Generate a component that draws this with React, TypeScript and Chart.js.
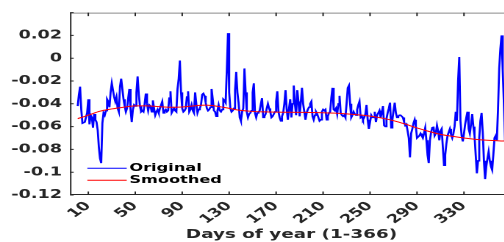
import React, { useEffect, useRef } from "react";
import { Chart, registerables } from "chart.js";

Chart.register(...registerables);

// ---- data ----
const originalValues: number[] = [
  -0.042, -0.032, -0.025, -0.045, -0.057, -0.057, -0.056, -0.052, -0.048, -0.036,
  -0.058, -0.050, -0.052, -0.061, -0.049, -0.054, -0.056, -0.063, -0.078, -0.088,
  -0.092, -0.057, -0.048, -0.050, -0.046, -0.036, -0.038, -0.043, -0.030, -0.022,
  -0.022, -0.034, -0.038, -0.034, -0.044, -0.047, -0.025, -0.018, -0.027, -0.036,
  -0.042, -0.047, -0.044, -0.035, -0.027, -0.045, -0.056, -0.045, -0.041, -0.042,
  -0.030, -0.016, -0.032, -0.042, -0.047, -0.046, -0.047, -0.040, -0.031, -0.040,
  -0.046, -0.041, -0.042, -0.047, -0.037, -0.044, -0.050, -0.047, -0.045, -0.048,
  -0.044, -0.041, -0.038, -0.048, -0.046, -0.045, -0.047, -0.046, -0.035, -0.029,
  -0.048, -0.046, -0.044, -0.046, -0.047, -0.027, -0.018, -0.002, -0.030, -0.044,
  -0.047, -0.046, -0.044, -0.034, -0.029, -0.047, -0.045, -0.041, -0.046, -0.048,
  -0.030, -0.040, -0.048, -0.045, -0.044, -0.041, -0.032, -0.031, -0.033, -0.039,
  -0.044, -0.046, -0.045, -0.043, -0.027, -0.036, -0.046, -0.047, -0.051, -0.046,
  -0.041, -0.046, -0.047, -0.045, -0.036, -0.037, -0.039, -0.010, 0.022, -0.030,
  -0.044, -0.047, -0.046, -0.044, -0.028, -0.012, -0.030, -0.039, -0.052, -0.055,
  -0.047, -0.044, -0.009, -0.030, -0.047, -0.052, -0.049, -0.048, -0.046, -0.030,
  -0.022, -0.048, -0.052, -0.048, -0.047, -0.046, -0.040, -0.035, -0.052, -0.051,
  -0.049, -0.044, -0.040, -0.044, -0.047, -0.052, -0.051, -0.049, -0.047, -0.038,
  -0.029, -0.047, -0.052, -0.055, -0.051, -0.048, -0.040, -0.028, -0.045, -0.054,
  -0.044, -0.036, -0.052, -0.040, -0.024, -0.040, -0.050, -0.028, -0.038, -0.051,
  -0.039, -0.026, -0.040, -0.047, -0.054, -0.048, -0.045, -0.043, -0.040, -0.038,
  -0.051, -0.054, -0.050, -0.047, -0.049, -0.052, -0.055, -0.054, -0.047, -0.045,
  -0.046, -0.045, -0.054, -0.051, -0.048, -0.047, -0.035, -0.026, -0.045, -0.046,
  -0.044, -0.049, -0.040, -0.033, -0.048, -0.050, -0.051, -0.050, -0.052, -0.040,
  -0.026, -0.024, -0.040, -0.052, -0.050, -0.047, -0.049, -0.050, -0.045, -0.041,
  -0.038, -0.052, -0.051, -0.054, -0.052, -0.049, -0.041, -0.054, -0.062, -0.056,
  -0.050, -0.052, -0.052, -0.047, -0.056, -0.050, -0.048, -0.046, -0.052, -0.048,
  -0.042, -0.059, -0.060, -0.053, -0.048, -0.044, -0.039, -0.061, -0.054, -0.046,
  -0.039, -0.048, -0.052, -0.051, -0.050, -0.050, -0.051, -0.052, -0.056, -0.059,
  -0.058, -0.064, -0.070, -0.087, -0.066, -0.062, -0.057, -0.054, -0.060, -0.070,
  -0.069, -0.068, -0.066, -0.068, -0.070, -0.066, -0.061, -0.072, -0.085, -0.092,
  -0.072, -0.065, -0.061, -0.060, -0.068, -0.066, -0.059, -0.064, -0.072, -0.064,
  -0.062, -0.078, -0.094, -0.085, -0.075, -0.068, -0.065, -0.062, -0.067, -0.070,
  -0.066, -0.060, -0.047, -0.055, -0.020, 0.001, -0.055, -0.068, -0.073, -0.066,
  -0.058, -0.052, -0.047, -0.062, -0.066, -0.058, -0.049, -0.060, -0.068, -0.085,
  -0.101, -0.090, -0.070, -0.055, -0.048, -0.065, -0.090, -0.106, -0.095, -0.088,
  -0.082, -0.090, -0.095, -0.098, -0.085, -0.070, -0.068, -0.072, -0.045, -0.009,
  0.008, 0.020, -0.010, -0.040, -0.072, -0.078,
];

const smoothDays: number[] = [
  1, 10, 20, 30, 40, 50, 60, 70, 80, 90, 100, 110, 120, 130, 140, 150, 160, 170, 180,
  190, 200, 210, 220, 230, 240, 250, 260, 270, 280, 290, 300, 310, 320, 330, 340, 350,
  360, 366,
];
const smoothValues: number[] = [
  -0.053, -0.05, -0.0465, -0.0445, -0.043, -0.0418, -0.0418, -0.0425, -0.043, -0.0428,
  -0.0418, -0.0412, -0.0422, -0.044, -0.0458, -0.0467, -0.0471, -0.0473, -0.0474,
  -0.0475, -0.0476, -0.0478, -0.0482, -0.0488, -0.0497, -0.0508, -0.0525, -0.0548,
  -0.0578, -0.0612, -0.0642, -0.0668, -0.0685, -0.07, -0.0712, -0.072, -0.0725, -0.0727,
];

const xTickValues: number[] = [10, 50, 90, 130, 170, 210, 250, 290, 330];
const yTickValues: number[] = [0.04, 0.02, 0, -0.02, -0.04, -0.06, -0.08, -0.1, -0.12];
const seriesLabels: string[] = ["Original", "Smoothed"];
const xTitle = "Days of year (1-366)";

// ---- layout (chart drawn narrower, then stretched horizontally) ----
const SX = 1.47;
const W = 349;
const H = 242;
const FONT = "DejaVu Sans";
const AXIS = "#262626";

const boxPlugin = {
  id: "matlabBox",
  afterDatasetsDraw(chart: any) {
    const { ctx, chartArea: a, scales } = chart;
    const xs = scales.x;
    const ys = scales.y;
    ctx.save();
    ctx.lineWidth = 1;
    ctx.strokeStyle = "#8a8a8a";
    ctx.beginPath();
    ctx.moveTo(a.left, a.top + 0.5);
    ctx.lineTo(a.right, a.top + 0.5);
    ctx.stroke();
    ctx.strokeStyle = AXIS;
    ctx.beginPath();
    ctx.moveTo(a.left + 0.5, a.top);
    ctx.lineTo(a.left + 0.5, a.bottom - 0.5);
    ctx.lineTo(a.right, a.bottom - 0.5);
    ctx.stroke();
    ctx.beginPath();
    for (const v of xTickValues) {
      const px = xs.getPixelForValue(v);
      ctx.moveTo(px, a.bottom);
      ctx.lineTo(px, a.bottom - 3.5);
      ctx.moveTo(px, a.top);
      ctx.lineTo(px, a.top + 3.5);
    }
    for (const v of yTickValues) {
      const py = ys.getPixelForValue(v);
      ctx.moveTo(a.left, py);
      ctx.lineTo(a.left + 2.5, py);
    }
    ctx.stroke();
    ctx.restore();
  },
};

const legendPlugin = {
  id: "innerLegend",
  afterDraw(chart: any) {
    const { ctx, chartArea: a } = chart;
    const rowY = [a.bottom - 26.7, a.bottom - 14.8];
    ctx.save();
    chart.data.datasets.forEach((ds: any, i: number) => {
      const y = rowY[i];
      ctx.strokeStyle = ds.borderColor;
      ctx.lineWidth = 1;
      ctx.beginPath();
      ctx.moveTo(a.left + 11.8, y);
      ctx.lineTo(a.left + 38.6, y);
      ctx.stroke();
      ctx.fillStyle = "#000000";
      ctx.font = `bold 11px "${FONT}"`;
      ctx.textAlign = "left";
      ctx.textBaseline = "middle";
      ctx.fillText(ds.label, a.left + 40.4, y);
    });
    ctx.restore();
  },
};

export default function App() {
  const canvasRef = useRef<HTMLCanvasElement | null>(null);

  useEffect(() => {
    const canvas = canvasRef.current;
    if (!canvas) return;
    const chart = new Chart(canvas, {
      type: "line",
      data: {
        datasets: [
          {
            label: seriesLabels[0],
            data: originalValues.map((v, i) => ({ x: i + 1, y: v })),
            borderColor: "#0000ff",
            borderWidth: 1.4,
            pointRadius: 0,
            tension: 0,
            order: 1,
          },
          {
            label: seriesLabels[1],
            data: smoothDays.map((d, i) => ({ x: d, y: smoothValues[i] })),
            borderColor: "#ff0000",
            borderWidth: 1,
            pointRadius: 0,
            cubicInterpolationMode: "monotone",
            order: 0,
          },
        ],
      },
      options: {
        animation: false,
        responsive: false,
        devicePixelRatio: 2,
        layout: { padding: { top: 10, left: 0, right: 0, bottom: 0 } },
        plugins: { legend: { display: false }, tooltip: { enabled: false } },
        scales: {
          x: {
            type: "linear",
            min: -5.6,
            max: 371.8,
            afterBuildTicks: (s: any) => {
              s.ticks = xTickValues.map((v) => ({ value: v }));
            },
            afterFit: (s: any) => {
              s.height = 47;
            },
            grid: { display: false, drawTicks: false },
            border: { display: false },
            ticks: {
              autoSkip: false,
              minRotation: 45,
              maxRotation: 45,
              padding: 4,
              color: AXIS,
              font: { family: FONT, weight: "bold", size: 12 },
              callback: (v: any) => String(v),
            },
            title: {
              display: true,
              text: xTitle,
              color: AXIS,
              font: { family: FONT, weight: "bold", size: 12.5, lineHeight: 1.2 },
              padding: { top: 0, bottom: 0 },
            },
          },
          y: {
            type: "linear",
            min: -0.12,
            max: 0.04,
            afterBuildTicks: (s: any) => {
              s.ticks = yTickValues.map((v) => ({ value: v }));
            },
            afterFit: (s: any) => {
              s.width = 47.6;
            },
            grid: { display: false, drawTicks: false },
            border: { display: false },
            ticks: {
              padding: 5.4,
              color: AXIS,
              font: { family: FONT, weight: "bold", size: 12 },
              callback: (v: any) => (v > 0.03 ? "" : String(parseFloat(Number(v).toFixed(2)))),
            },
          },
        },
      },
      plugins: [boxPlugin, legendPlugin],
    } as any);
    return () => chart.destroy();
  }, []);

  return (
    <div
      style={{
        position: "fixed",
        left: 0,
        top: 0,
        width: 504,
        height: 242,
        overflow: "hidden",
        background: "#ffffff",
      }}
    >
      <div
        style={{
          width: W,
          height: H,
          transform: `scale(${SX}, 1)`,
          transformOrigin: "0 0",
        }}
      >
        <canvas ref={canvasRef} width={W} height={H} style={{ width: W, height: H, display: "block" }} />
      </div>
    </div>
  );
}
